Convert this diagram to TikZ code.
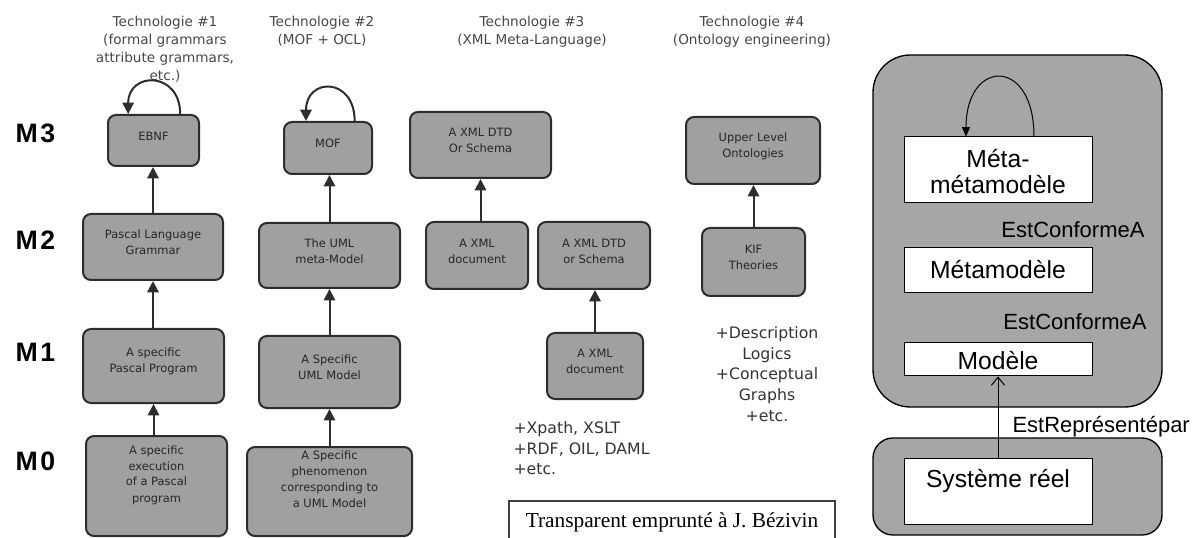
\documentclass[tikz,border=0pt]{standalone}
\usepackage{fontspec}
\setmainfont{Liberation Sans}
\newfontfamily\comicfont{DejaVu Sans}
\newfontfamily\timesfont{Liberation Serif}
\usetikzlibrary{arrows.meta,fit}

\definecolor{boxfill}{RGB}{160,160,160}
\definecolor{boxline}{RGB}{45,45,45}
\definecolor{panelfill}{RGB}{166,166,166}
\definecolor{headtext}{RGB}{70,70,70}

\tikzset{every picture/.style={line width=0.75pt}}
\tikzset{
  techbox/.style={draw=boxline, fill=boxfill, line width=1.5pt, rounded corners=6pt, inner sep=0pt, align=center, text=black!85, font=\comicfont\fontsize{8.6}{12}\selectfont},
  techhead/.style={anchor=north, inner sep=0pt, align=center, text=headtext, font=\comicfont\fontsize{10.2}{13.5}\selectfont},
  technote/.style={inner sep=0pt, text=black!80, font=\comicfont\fontsize{11.8}{15.5}\selectfont},
  levelname/.style={anchor=west, inner sep=0pt, font=\bfseries\fontsize{20}{20}\selectfont},
  uparrow/.style={draw=boxline, line width=1.5pt, -{Triangle[length=8.5pt,width=8.5pt]}},
  panel/.style={draw=black, fill=panelfill, line width=1pt, inner sep=0pt},
  whitebox/.style={draw=black, fill=white, line width=0.75pt, inner sep=0pt},
  boxtext/.style={anchor=base, inner sep=0pt, align=center, font=\fontsize{18.5}{19.5}\selectfont},
  relname/.style={inner sep=0pt, font=\fontsize{16.5}{16.5}\selectfont}
}

\begin{document}
\begin{tikzpicture}[x=0.75pt,y=0.75pt,yscale=-1,xscale=1]
\useasboundingbox (0,0) rectangle (1200,538);

% Level names
\node[levelname] (m3) at (15,133) {M\hspace{2pt}3};
\node[levelname] (m2) at (15,240) {M\hspace{2pt}2};
\node[levelname] (m1) at (15,352) {M\hspace{2pt}1};
\node[levelname] (m0) at (15,461) {M\hspace{2pt}0};

% Headings
\node[techhead] (head1) at (165,16) {Technologie \#1\\(formal grammars\\attribute grammars,\\etc.)};
\node[techhead] (head2) at (322,16) {Technologie \#2\\(MOF + OCL)};
\node[techhead] (head3) at (532,16) {Technologie \#3\\(XML Meta-Language)};
\node[techhead] (head4) at (752,16) {Technologie \#4\\(Ontology engineering)};

% Technologie #1
\node[techbox, fit={(108,115) (199,166)}] (ebnf) {EBNF};
\node[techbox, fit={(83,214) (223,280)}] (pascalgram) {Pascal Language\\Grammar};
\node[techbox, fit={(83,329) (224,403)}] (pascalprog) {A specific\\Pascal Program};
\node[techbox, fit={(86,436) (227,536)}] (pascalexec) {A specific\\execution\\of a Pascal\\program\\\mbox{}};

% Technologie #2
\node[techbox, fit={(284,122) (372,174)}] (mof) {MOF};
\node[techbox, fit={(259,223) (400,288)}] (umlmeta) {The UML\\meta-Model};
\node[techbox, fit={(259,336) (400,408)}] (umlmodel) {A Specific\\UML Model};
\node[techbox, fit={(247,447) (412,536)}] (umlpheno) {A Specific\\phenomenon\\corresponding to\\a UML Model\\\mbox{}};

% Technologie #3
\node[techbox, fit={(410,112) (551,178)}] (xmldtd) {A XML DTD\\Or Schema};
\node[techbox, fit={(426,222) (528,289)}] (xmldoc) {A XML\\document};
\node[techbox, fit={(538,222) (650,289)}] (xmldtdb) {A XML DTD\\or Schema};
\node[techbox, fit={(547,333) (643,399)}] (xmldocb) {A XML\\document};
\node[technote, anchor=north west, align=left] (xmlnote) at (513,421) {+Xpath, XSLT\\+RDF, OIL, DAML\\+etc.};

% Technologie #4
\node[techbox, fit={(686,117) (820,184)}] (upper) {Upper Level\\Ontologies};
\node[techbox, fit={(702,228) (805,296)}] (kif) {KIF\\Theories};
\node[technote, anchor=north, align=center] (ontonote) at (767,326) {+Description\\Logics\\+Conceptual\\Graphs\\+etc.};

% Source
\node[draw=black!75, line width=1pt, inner sep=0pt, fit={(509,501) (835,545)}] (source) {};
\node[inner sep=0pt, font=\timesfont\fontsize{16}{16}\selectfont] (sourcetxt) at (672,522) {Transparent emprunté à J. Bézivin};

% Arrows
\draw[uparrow] (pascalgram) -- (pascalgram |- ebnf.south);
\draw[uparrow] (pascalprog.north -| pascalgram) -- (pascalgram);
\draw[uparrow] (pascalexec.north -| pascalprog) -- (pascalprog);
\draw[uparrow] (umlmeta) -- (umlmeta |- mof.south);
\draw[uparrow] (umlmodel) -- (umlmeta);
\draw[uparrow] (umlpheno.north -| umlmodel) -- (umlmodel);
\draw[uparrow] (xmldoc.north -| xmldtd) -- (xmldtd);
\draw[uparrow] (xmldocb) -- (xmldocb |- xmldtdb.south);
\draw[uparrow] (kif) -- (kif |- upper.south);
\draw[uparrow] ([xshift=20pt]ebnf.north) .. controls +(0,-43) and +(0,-43) .. ([xshift=-19pt]ebnf.north);
\draw[uparrow] ([xshift=20pt]mof.north) .. controls +(0,-44) and +(0,-44) .. ([xshift=-16.5pt]mof.north);

% Right side
\node[panel, rounded corners=28pt, fit={(873,55) (1162,407)}] (modelpanel) {};
\node[panel, rounded corners=15pt, fit={(873,438) (1162,535)}] (realpanel) {};
\node[whitebox, fit={(904,137) (1092,203)}] (metameta) {};
\node[whitebox, fit={(904,248) (1092,293)}] (metamodel) {};
\node[whitebox, fit={(904,343) (1092,376)}] (model) {};
\node[whitebox, fit={(904,458) (1092,524)}] (sysreel) {};
\node[boxtext] (metametatxt) at (998,194) {Méta-\\métamodèle};
\node[boxtext] (metamodeltxt) at (998,279) {Métamodèle};
\node[boxtext] (modeltxt) at (998,369) {Modèle};
\node[boxtext] (sysreeltxt) at (998,487) {Système réel};
\node[relname] (conf1) at (1073,230) {EstConformeA};
\node[relname] (conf2) at (1075,322) {EstConformeA};
\node[relname, anchor=west] (repr) at (1012,427) {EstReprésentépar};

\draw[-{Straight Barb[length=6pt,width=10pt]}] (sysreel) -- (model);
\draw[-{Triangle[length=7pt,width=6pt]}] ([xshift=27pt]metameta.north) .. controls +(0,-80) and +(0,-78) .. ([xshift=-24pt]metameta.north);

\end{tikzpicture}
\end{document}
